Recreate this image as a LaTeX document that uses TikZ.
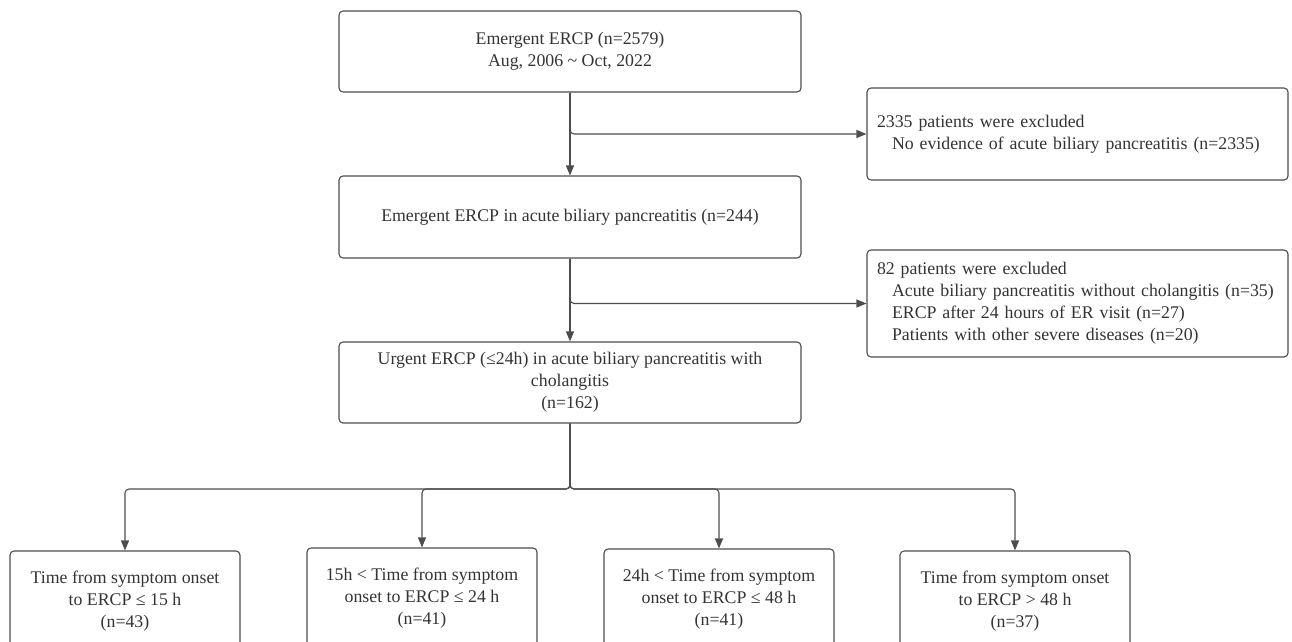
\documentclass[tikz,border=0pt]{standalone}
\usepackage{fontspec}
\setmainfont{Liberation Serif}
\usetikzlibrary{arrows.meta}
\definecolor{linegray}{HTML}{4D4D4D}
\definecolor{textgray}{HTML}{333333}
\newcommand\fsz{\fontsize{17.8}{22}\selectfont}
\newcommand\ind[1]{\mbox{\hspace*{15pt}#1}}
\tikzset{
  box/.style={draw=linegray, rounded corners=4pt, line width=1.1pt, text=textgray,
    font=\fsz, align=center, inner sep=0pt},
  mainbox/.style={box, minimum width=462pt, minimum height=81pt},
  exclbox/.style={box, minimum width=421pt, text width=401pt, inner xsep=10pt, align=left},
  leafbox/.style={box, minimum width=230pt, minimum height=100pt},
  conn/.style={draw=linegray, line width=1.1pt, -{Triangle[length=10pt,width=8pt]}},
}
\begin{document}
\begin{tikzpicture}[x=1pt,y=-1pt]
\useasboundingbox (0,0) rectangle (1292,641);
\clip (0,0) rectangle (1292,641);
\node[mainbox] (b1) at (570,51.5) {Emergent ERCP (n=2579)\\Aug, 2006 \textasciitilde{} Oct, 2022};
\node[mainbox, minimum height=82pt] (b2) at (570,217) {Emergent ERCP in acute biliary pancreatitis (n=244)};
\node[mainbox] (b3) at (570,382.5) {Urgent ERCP (≤24h) in acute biliary pancreatitis with\\cholangitis\\(n=162)};
\node[exclbox, minimum height=92pt] (e1) at (1077.5,134) {\mbox{2335 patients were excluded}\\\ind{No evidence of acute biliary pancreatitis (n=2335)}};
\node[exclbox, minimum height=107pt] (e2) at (1077.5,303.5) {\mbox{82 patients were excluded}\\\ind{Acute biliary pancreatitis without cholangitis (n=35)}\\\ind{ERCP after 24 hours of ER visit (n=27)}\\\ind{Patients with other severe diseases (n=20)}};
\node[leafbox] (c1) at (125,601) {Time from symptom onset\\to ERCP ≤ 15 h\\(n=43)};
\node[leafbox] (c2) at (422,598) {15h < Time from symptom\\onset to ERCP ≤ 24 h\\(n=41)};
\node[leafbox] (c3) at (719,599) {24h < Time from symptom\\onset to ERCP ≤ 48 h\\(n=41)};
\node[leafbox] (c4) at (1015,601) {Time from symptom onset\\to ERCP > 48 h\\(n=37)};
\coordinate (bus) at (570,489);
\draw[conn] (b1) -- (b2);
\draw[conn, rounded corners=4pt] (b1.south) |- (e1.west);
\draw[conn] (b2) -- (b3);
\draw[conn, rounded corners=4pt] (b2.south) |- (e2.west);
\foreach \c in {c1,c2,c3,c4}{
  \draw[conn, rounded corners=4pt] (b3.south) -- (bus) -| (\c.north);
}
\end{tikzpicture}
\end{document}
